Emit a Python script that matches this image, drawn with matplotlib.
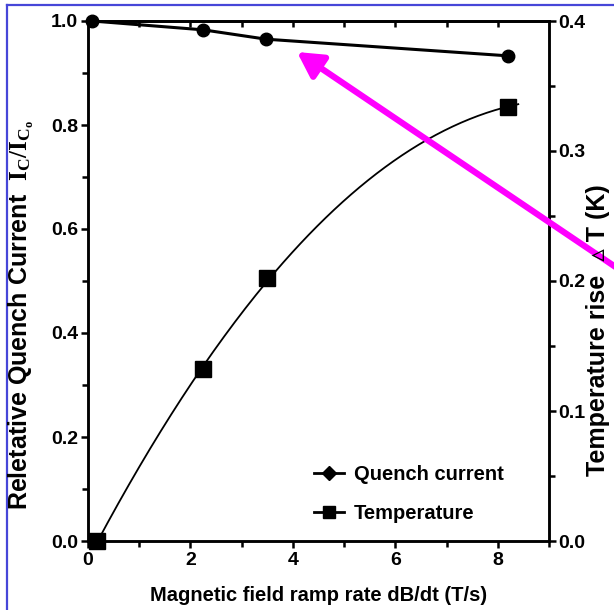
import numpy as np
import matplotlib
matplotlib.use('Agg')
import matplotlib.pyplot as plt
from matplotlib.lines import Line2D
from matplotlib.patches import FancyArrowPatch
from matplotlib.ticker import MultipleLocator, FormatStrFormatter

plt.rcParams['font.family'] = ['Liberation Sans', 'DejaVu Sans']
plt.rcParams['font.weight'] = 'bold'
plt.rcParams['axes.labelweight'] = 'bold'
plt.rcParams['mathtext.fontset'] = 'custom'
plt.rcParams['mathtext.rm'] = 'Liberation Serif'
plt.rcParams['mathtext.it'] = 'Liberation Serif'

# data
ramp_current = [0.08, 2.25, 3.48, 8.2]
quench_current = [1.0, 0.983, 0.965, 0.933]
ramp_temp = [0.18, 2.25, 3.5, 8.2]
temp_rise = [0.0, 0.132, 0.202, 0.334]

fig = plt.figure(figsize=(6.14, 6.10), dpi=100)
ax = fig.add_axes([88/614, 1-541/610, (549-88)/614, (541-21)/610])
ax2 = ax.twinx()

# quench current: points joined by a straight line
ax.plot(ramp_current, quench_current, color='black', lw=2.2,
        marker='o', ms=9, zorder=5, clip_on=False)

# temperature rise: smooth 2nd order fit through the points
coef = np.polyfit(ramp_temp, temp_rise, 2)
xs = np.linspace(ramp_temp[0], ramp_temp[-1] + 0.2, 200)
ax2.plot(xs, np.polyval(coef, xs), color='black', lw=1.3)
ax2.plot(ramp_temp, temp_rise, ls='none', marker='s', ms=11,
         color='black', clip_on=False, zorder=5)

ax.set_xlim(0, 9)
ax.set_ylim(0, 1.0)
ax2.set_ylim(0, 0.4)

ax.xaxis.set_major_locator(MultipleLocator(2))
ax.xaxis.set_minor_locator(MultipleLocator(1))
ax.yaxis.set_major_locator(MultipleLocator(0.2))
ax.yaxis.set_minor_locator(MultipleLocator(0.1))
ax2.yaxis.set_major_locator(MultipleLocator(0.1))
ax2.yaxis.set_minor_locator(MultipleLocator(0.05))

ax.tick_params(axis='x', which='both', direction='out', bottom=True, top=False,
               labelsize=14, width=1.8, pad=3)
ax.tick_params(axis='x', which='major', length=5)
ax.tick_params(axis='x', which='minor', length=4)
ax.tick_params(axis='y', which='major', direction='out', length=5, width=1.8, labelsize=14, pad=2)
ax.tick_params(axis='y', which='minor', direction='out', length=4, width=1.8)
ax2.tick_params(axis='y', which='major', direction='out', length=5, width=1.8, labelsize=14, pad=2)
ax2.tick_params(axis='y', which='minor', direction='out', length=4, width=1.8)

# inward ticks along the top edge every unit
top = ax.secondary_xaxis('top')
top.set_xticks(np.arange(1, 9, 1))
top.tick_params(direction='in', length=4, width=1.8, labeltop=False)
top.spines['top'].set_linewidth(1.8)

ax.yaxis.set_major_formatter(FormatStrFormatter('%.1f'))
ax2.yaxis.set_major_formatter(FormatStrFormatter('%.1f'))

for s in ax.spines.values():
    s.set_linewidth(1.8)
for s in ax2.spines.values():
    s.set_linewidth(1.8)

ax.set_xlabel('Magnetic field ramp rate dB/dt (T/s)', fontsize=14.5, labelpad=12)
fig.text(21/614, 1-315/610,
         r'Reletative Quench Current  $\mathrm{I_C/I_{C_o}}$',
         rotation=90, fontsize=18, ha='center', va='center')
fig.text(598/614, 1-330/610, 'Temperature rise  \u25b5 T (K)',
         rotation=90, fontsize=18, ha='center', va='center')

handles = [Line2D([], [], color='black', lw=2, marker='D', ms=7),
           Line2D([], [], color='black', lw=2, marker='s', ms=8)]
ax.legend(handles, ['Quench current', 'Temperature'], frameon=False,
          loc='lower left', bbox_to_anchor=(0.45, 0.0), fontsize=14.5,
          handlelength=1.5, handletextpad=0.5, labelspacing=1.0)

# magenta arrow pointing at the quench current line
arrow = FancyArrowPatch((620, 610-270), (297, 610-52),
                        transform=None, arrowstyle='-|>,head_length=1.0,head_width=0.55',
                        mutation_scale=15, color='#ff00ff', lw=4.5,
                        shrinkA=0, shrinkB=0)
fig.patches.append(arrow)

# thin blue frame on top and left
fig.add_artist(Line2D([7/614, 1], [1-5/610, 1-5/610], color='#4646d8', lw=1.6))
fig.add_artist(Line2D([7/614, 7/614], [0, 1-5/610], color='#4646d8', lw=1.6))

fig.savefig('out.png', dpi=100)
